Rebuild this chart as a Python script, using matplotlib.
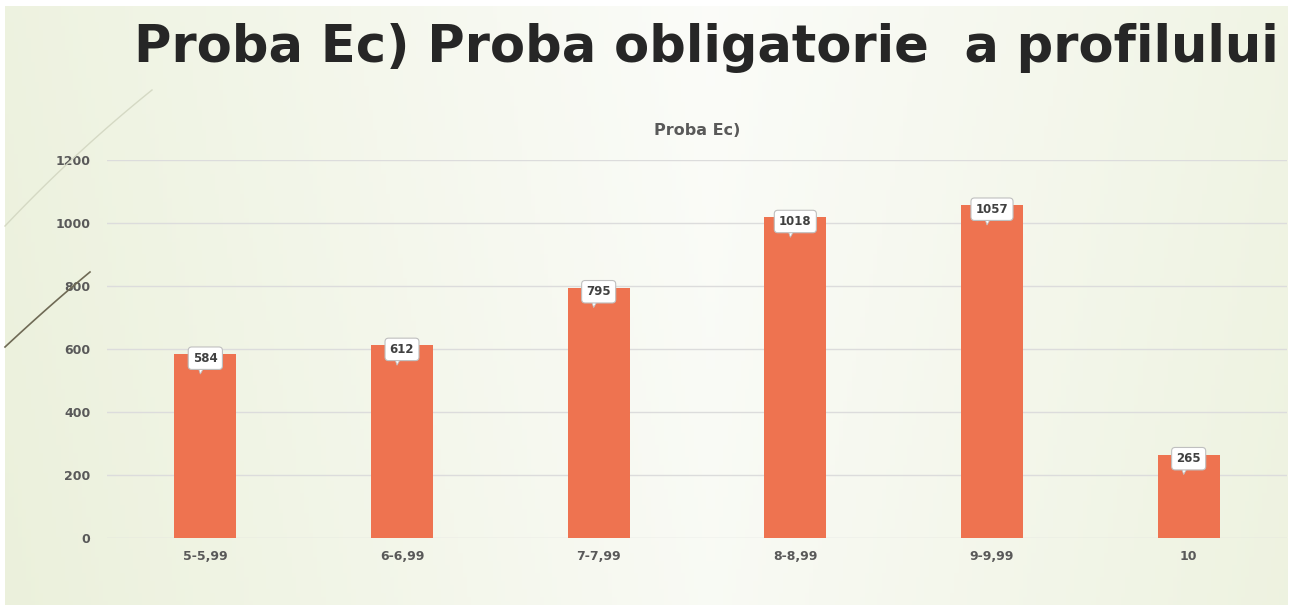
import matplotlib
matplotlib.use("Agg")
import matplotlib.pyplot as plt
import matplotlib.transforms as mtrans
import numpy as np
from matplotlib.patches import Polygon

categories = ["5-5,99", "6-6,99", "7-7,99", "8-8,99", "9-9,99", "10"]
values = [584, 612, 795, 1018, 1057, 265]
y_ticks = [0, 200, 400, 600, 800, 1000, 1200]

W, H = 1293, 611
fig = plt.figure(figsize=(W / 100, H / 100), dpi=100, facecolor="white")

# background gradient panel
bg = fig.add_axes([5 / W, 6 / H, 1283 / W, 599 / H])
bg.set_axis_off()
xx = np.linspace(0, 1, 300)
yy = np.linspace(0, 1, 150)
X, Y = np.meshgrid(xx, yy)
d = np.clip(np.abs(X - 0.55) * 1.6 + (1 - Y) * 0.15, 0, 1)
c0 = np.array([0.985, 0.988, 0.975])
c1 = np.array([0.925, 0.945, 0.865])
img = c0[None, None, :] * (1 - d[..., None]) + c1[None, None, :] * d[..., None]
bg.imshow(img, aspect="auto", extent=[0, 1, 0, 1], origin="lower")
bg.set_xlim(0, 1)
bg.set_ylim(0, 1)


def bez(p0, p1, p2, n=40):
    t = np.linspace(0, 1, n)[:, None]
    p0, p1, p2 = map(np.array, (p0, p1, p2))
    pts = (1 - t) ** 2 * p0 + 2 * (1 - t) * t * p1 + t ** 2 * p2
    return pts[:, 0] / W, 1 - pts[:, 1] / H


# decorative curves (slide theme)
cx, cy = bez((5, 226), (75, 152), (152, 90))
fig.add_artist(plt.Line2D(cx, cy, color="#d5d9c4", lw=1.0))
cx, cy = bez((5, 347), (50, 305), (90, 272))
fig.add_artist(plt.Line2D(cx, cy, color="#6f6a55", lw=1.2))

# main title
fig.text(706 / W, 1 - 48 / H, "Proba Ec) Proba obligatorie  a profilului",
         ha="center", va="center", fontsize=36.8, fontweight="bold",
         color="#262626", family="DejaVu Sans")

# chart axes
x0, x1 = 107, 1287
ytop, ybot = 160, 538
ax = fig.add_axes([x0 / W, 1 - ybot / H, (x1 - x0) / W, (ybot - ytop) / H])
ax.set_facecolor("none")
ax.set_ylim(0, 1200)
ax.set_xlim(-0.5, len(categories) - 0.5)
xs = np.arange(len(categories))
ax.bar(xs, values, width=0.315, color="#EE7350", zorder=3)
ax.set_yticks(y_ticks)
ax.set_xticks(xs)
ax.set_xticklabels(categories)
ax.grid(axis="y", color="#dcdcdc", lw=1.0, zorder=0)
ax.set_axisbelow(True)
for s in ax.spines.values():
    s.set_visible(False)
ax.tick_params(length=0, labelsize=9, labelcolor="#595959")
for lab in ax.get_xticklabels() + ax.get_yticklabels():
    lab.set_fontweight("bold")
ax.tick_params(axis="x", pad=9)
ax.tick_params(axis="y", pad=12)

ax.set_title("Proba Ec)", fontsize=11.5, fontweight="bold", color="#595959", pad=18)

# data label callouts
for x, v in zip(xs, values):
    ax.annotate(f"{v}", (x, v), xytext=(0, -3), textcoords="offset points",
                ha="center", va="center", fontsize=8.5, fontweight="bold",
                color="#404040", zorder=6,
                bbox=dict(boxstyle="round,pad=0.4,rounding_size=0.3",
                          fc="white", ec="#bfbfbf", lw=0.8))
    tr = fig.dpi_scale_trans + mtrans.ScaledTranslation(x, v, ax.transData)
    tri = Polygon([(-0.08, -0.11), (0.0, -0.11), (-0.05, -0.20)], closed=True,
                  fc="white", ec="#bfbfbf", lw=0.6, transform=tr, zorder=5)
    ax.add_patch(tri)
    tri2 = Polygon([(-0.085, -0.09), (0.005, -0.09), (-0.04, -0.13)], closed=True,
                   fc="white", ec="none", transform=tr, zorder=7)
    ax.add_patch(tri2)

fig.savefig("out.png", dpi=100, facecolor="white")
